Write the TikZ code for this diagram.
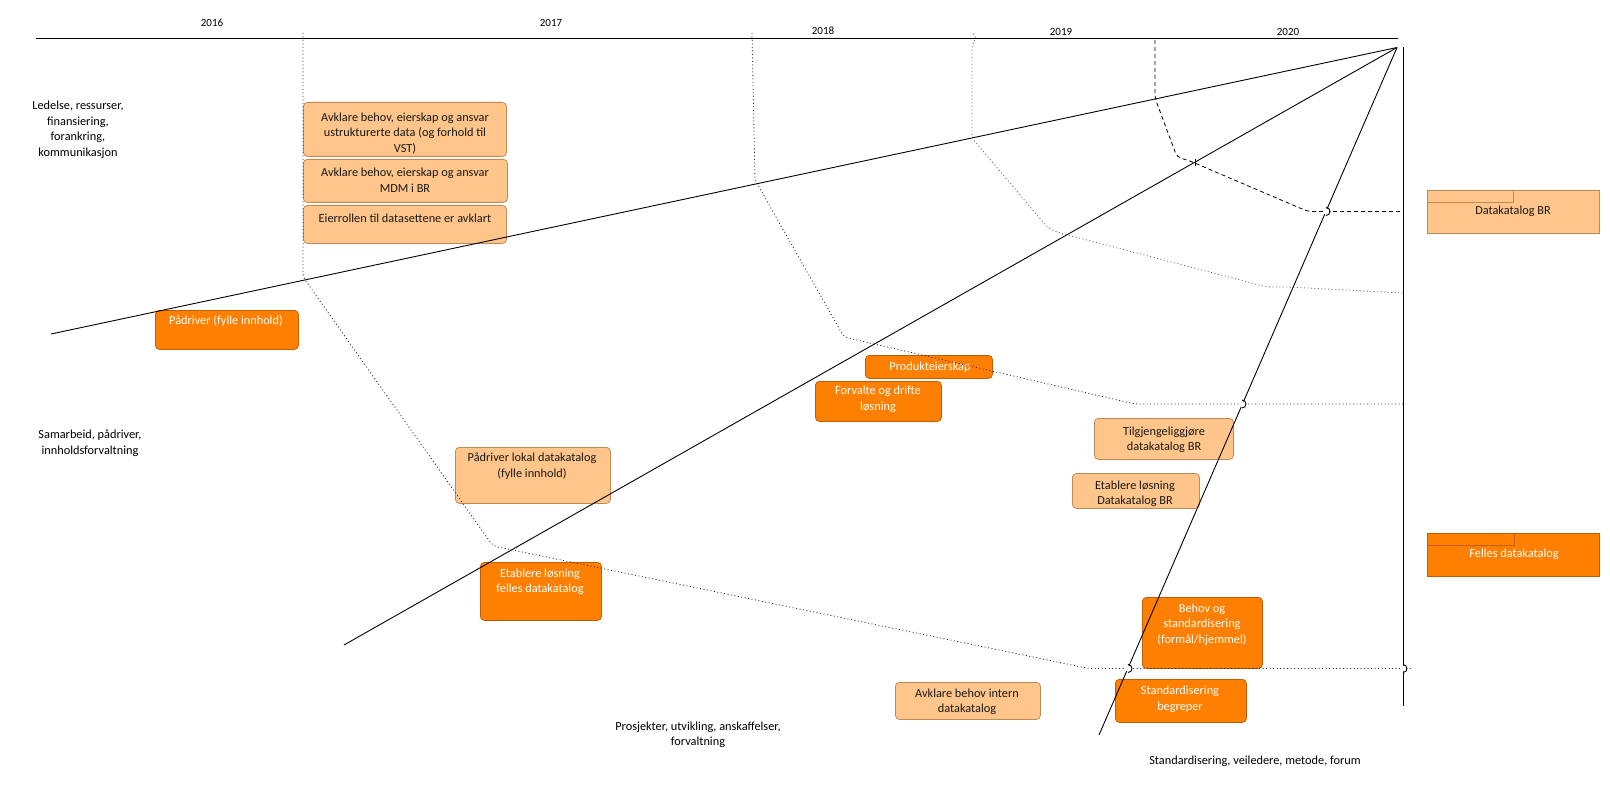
\documentclass[tikz,border=0pt]{standalone}
\usepackage{fontspec}
\setmainfont{Carlito}
\definecolor{lfill}{HTML}{FFC58A}
\definecolor{lborder}{HTML}{C08A55}
\definecolor{dfill}{HTML}{FF8000}
\definecolor{dborder}{HTML}{C25E00}
\begin{document}
\begin{tikzpicture}[x=1pt,y=-1pt,
  lbox/.style={draw=lborder, fill=lfill, rounded corners=4pt, line width=0.8pt, inner sep=0pt, anchor=north west},
  dbox/.style={draw=dborder, fill=dfill, rounded corners=4pt, line width=0.8pt, inner sep=0pt, anchor=north west},
  lpkg/.style={draw=lborder, fill=lfill, line width=0.8pt},
  dpkg/.style={draw=dborder, fill=dfill, line width=0.8pt},
  ltxt/.style={font=\fontsize{12.3}{15.5}\selectfont, align=center, inner sep=0pt, text=black!90},
  dtxt/.style={font=\fontsize{12.3}{15.5}\selectfont, align=center, inner sep=0pt, text=white},
  yr/.style={font=\fontsize{11}{13}\selectfont, inner sep=0pt, text=black},
  sepline/.style={line width=0.8pt, black!85, dash pattern=on 1pt off 2.5pt, rounded corners=4pt},
  dsepline/.style={line width=0.8pt, black, dash pattern=on 4pt off 3pt, rounded corners=4pt},
  conv/.style={line width=0.9pt, black},
  hop/.style={line width=0.9pt, black}
]
\useasboundingbox (0,0) rectangle (1610,789);
\fill[white] (0,0) rectangle (1610,789);

% ---------- boxes ----------
\node[lbox, minimum width=203pt, minimum height=54pt] (b1) at (303,102) {};
\node[lbox, minimum width=204pt, minimum height=43pt] (b2) at (303,159) {};
\node[lbox, minimum width=203pt, minimum height=38pt] (b3) at (303,205) {};
\node[lbox, minimum width=155pt, minimum height=56pt] (b4) at (455,447) {};
\node[lbox, minimum width=139pt, minimum height=41pt] (b5) at (1094,418) {};
\node[lbox, minimum width=127pt, minimum height=35pt] (b6) at (1072,473) {};
\node[lbox, minimum width=145pt, minimum height=37pt] (b7) at (895,682) {};

\node[dbox, minimum width=143pt, minimum height=39pt] (d1) at (155,310) {};
\node[dbox, minimum width=127pt, minimum height=23pt] (d2) at (865,355) {};
\node[dbox, minimum width=126pt, minimum height=40pt] (d3) at (815,381) {};
\node[dbox, minimum width=121pt, minimum height=58pt] (d4) at (480,562) {};
\node[dbox, minimum width=120pt, minimum height=71pt] (d5) at (1142,597) {};
\node[dbox, minimum width=131pt, minimum height=43pt] (d6) at (1115,679) {};

% package boxes
\node[lpkg, anchor=north west, minimum width=172pt, minimum height=43pt, inner sep=0pt] (p1) at (1427,190) {};
\draw[lpkg] (1427,190) rectangle (1513,202);
\node[dpkg, anchor=north west, minimum width=172pt, minimum height=43pt, inner sep=0pt] (p2) at (1427,533) {};
\draw[dpkg] (1427,533) rectangle (1514,545);

% ---------- box texts ----------
\node[ltxt] (t1) at (405,133.5) {Avklare behov, eierskap og ansvar\\ustrukturerte data (og forhold til\\VST)};
\node[ltxt] (t2) at (405,180) {Avklare behov, eierskap og ansvar\\MDM i BR};
\node[ltxt] (t3) at (405,218) {Eierrollen til datasettene er avklart};
\node[ltxt] (t4) at (532,466) {Pådriver lokal datakatalog\\(fylle innhold)};
\node[ltxt] (t5) at (1164,440) {Tilgjengeliggjøre\\datakatalog BR};
\begin{scope}
\clip (1072,473) rectangle (1199,507);
\node[ltxt] (t6) at (1135,494) {Etablere løsning\\Datakatalog BR};
\end{scope}
\begin{scope}
\clip (895,682) rectangle (1040,718);
\node[ltxt] (t7) at (967,702) {Avklare behov intern\\datakatalog};
\end{scope}

\node[dtxt] (u1) at (226,321) {Pådriver (fylle innhold)};
\node[dtxt] (u2) at (930,367) {Produkteierskap};
\node[dtxt] (u3) at (878,399.5) {Forvalte og drifte\\løsning};
\node[dtxt] (u4) at (540,582) {Etablere løsning\\felles datakatalog};
\node[dtxt] (u5) at (1202,624.5) {Behov og\\standardisering\\(formål/hjemmel)};
\node[dtxt] (u6) at (1180,699.5) {Standardisering\\begreper};

\node[ltxt] (q1) at (1513,211) {Datakatalog BR};
\node[dtxt] (q2) at (1514,554) {Felles datakatalog};

% ---------- side labels ----------
\node[ltxt, text=black] (l1) at (78,130) {Ledelse, ressurser,\\finansiering,\\forankring,\\kommunikasjon};
\node[ltxt, text=black] (l2) at (90,443) {Samarbeid, pådriver,\\innholdsforvaltning};
\node[ltxt, text=black] (l3) at (698,735) {Prosjekter, utvikling, anskaffelser,\\forvaltning};
\node[ltxt, text=black] (l4) at (1255,761) {Standardisering, veiledere, metode, forum};

% ---------- years ----------
\node[yr] (y16) at (212,23) {2016};
\node[yr] (y17) at (551,23) {2017};
\node[yr] (y18) at (823,31) {2018};
\node[yr] (y19) at (1061,32) {2019};
\node[yr] (y20) at (1288,32) {2020};

% ---------- time axis ----------
\coordinate (axL) at (36,38);
\coordinate (axR) at (1398,38);
\draw[line width=0.9pt] (axL) -- (axR);

% ---------- separators ----------
\draw[sepline] (303,33) -- (303,277) -- (493,546) -- (1089,668.5) -- (1412,668.5);
\draw[sepline] (752,33) -- (755,180) -- (844,337) -- (1135,404) -- (1403,404);
\draw[sepline, black!60] (973,34) -- (977,36) -- (972,45) -- (972,138) -- (1048,228) -- (1060,233) -- (1267,287) -- (1288,287) -- (1403,293);
\draw[dsepline] (1155,40) -- (1155,98) -- (1177,157) -- (1190,161) -- (1308,211.5) -- (1403,211.5);

% ---------- converging lines ----------
\coordinate (P) at (1397,47.5);
\coordinate (e1) at (51,334);
\coordinate (e2) at (344,645);
\coordinate (e3) at (1099,735);
\coordinate (vt) at (1403,47.5);
\coordinate (vb) at (1403,706);
\draw[conv] (P) -- (e1);
\draw[conv] (P) -- (e2);
\draw[conv] (P) -- (e3);
\draw[conv] (vt) -- (vb);

% hops
\foreach \hx/\hy in {1326/211.5, 1242/404, 1128/668.5, 1403/668.5}{
  \fill[white] (\hx,\hy) circle (3pt);
  \draw[hop] (\hx,\hy-4) arc (-90:90:4);
}
\draw[hop] (1195,159) -- (1195,166);
\end{tikzpicture}
\end{document}
